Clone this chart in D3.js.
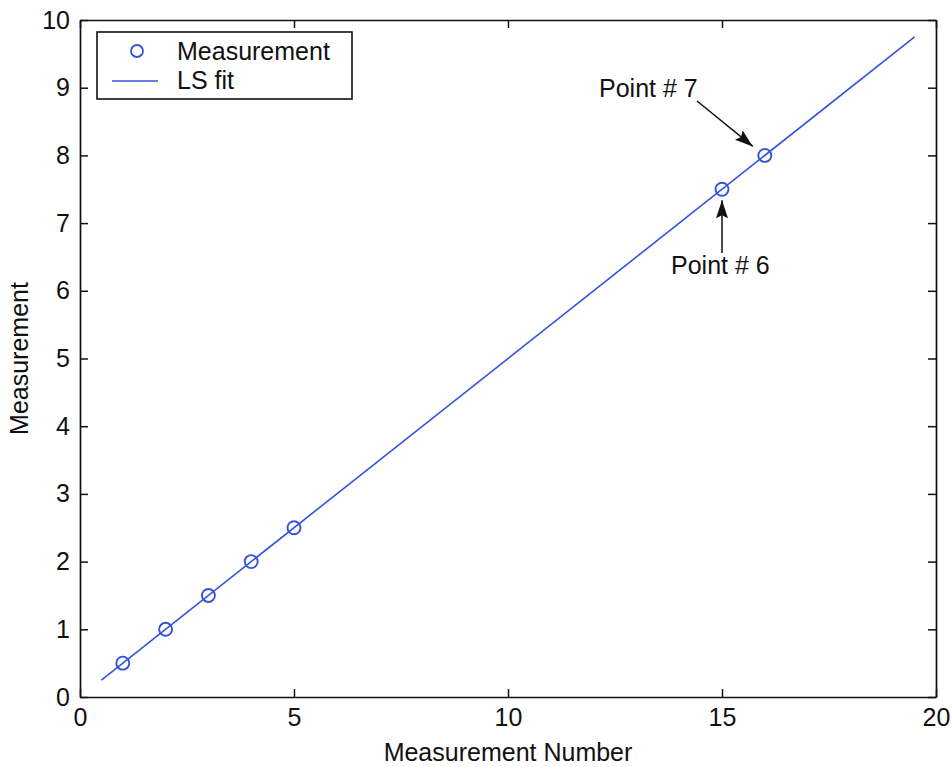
<!DOCTYPE html>
<html>
<head>
<meta charset="utf-8">
<script src="https://cdn.jsdelivr.net/npm/d3@7"></script>
<style>
  html, body { margin: 0; padding: 0; background: #ffffff; }
  svg { display: block; }
  text { font-family: "Liberation Sans", Arial, sans-serif; fill: #111; }
</style>
</head>
<body>
<svg id="chart" width="952" height="767"></svg>
<script>
// Measurement data
const measurementNumber = [1, 2, 3, 4, 5, 15, 16];
const measurementValue  = [0.5, 1.0, 1.5, 2.0, 2.5, 7.5, 8.0];

// Range over which the least-squares line is drawn
const fitRange = [0.5, 19.5];

// Axis ticks
const xTicks = [0, 5, 10, 15, 20];
const yTicks = [0, 1, 2, 3, 4, 5, 6, 7, 8, 9, 10];

// Callouts: label text and index of the point it refers to
const callouts = [
  { label: "Point # 7", index: 6 },
  { label: "Point # 6", index: 5 }
];

const seriesNames = ["Measurement", "LS fit"];

const blue = "#3552dc";
const fontSize = "25px";
const svg = d3.select("#chart");

const plot = { left: 80, right: 936, top: 20, bottom: 697 };
const x = d3.scaleLinear().domain([0, 20]).range([plot.left, plot.right]);
const y = d3.scaleLinear().domain([0, 10]).range([plot.bottom, plot.top]);

// Least-squares fit of the measurements
const n = measurementNumber.length;
const mx = d3.mean(measurementNumber), my = d3.mean(measurementValue);
let sxy = 0, sxx = 0;
for (let i = 0; i < n; i++) {
  sxy += (measurementNumber[i] - mx) * (measurementValue[i] - my);
  sxx += (measurementNumber[i] - mx) ** 2;
}
const slope = sxy / sxx;
const intercept = my - slope * mx;
const fitLine = fitRange.map(v => [v, intercept + slope * v]);

// Filled arrowhead for the callouts
svg.append("defs").append("marker")
  .attr("id", "arrow")
  .attr("viewBox", "0 0 18 12")
  .attr("refX", 18).attr("refY", 6)
  .attr("markerWidth", 18).attr("markerHeight", 12)
  .attr("markerUnits", "userSpaceOnUse")
  .attr("orient", "auto")
  .append("path").attr("d", "M0,0 L18,6 L0,12 L3,6 Z").attr("fill", "#111");

// Axes (inward ticks, boxed like a MATLAB figure)
const tickFont = g => g.selectAll("text")
  .style("font-size", fontSize)
  .style("font-family", '"Liberation Sans", Arial, sans-serif')
  .attr("fill", "#111");

svg.append("g")
  .attr("transform", `translate(0,${plot.bottom})`)
  .call(d3.axisBottom(x).tickValues(xTicks).tickFormat(d3.format("d"))
    .tickSizeInner(-8).tickSizeOuter(0).tickPadding(11))
  .call(tickFont);

svg.append("g")
  .attr("transform", `translate(0,${plot.top})`)
  .call(d3.axisTop(x).tickValues(xTicks).tickFormat("")
    .tickSizeInner(-8).tickSizeOuter(0));

svg.append("g")
  .attr("transform", `translate(${plot.left},0)`)
  .call(d3.axisLeft(y).tickValues(yTicks).tickFormat(d3.format("d"))
    .tickSizeInner(-8).tickSizeOuter(0).tickPadding(10))
  .call(tickFont);

svg.append("g")
  .attr("transform", `translate(${plot.right},0)`)
  .call(d3.axisRight(y).tickValues(yTicks).tickFormat("")
    .tickSizeInner(-8).tickSizeOuter(0));

svg.selectAll(".domain").attr("stroke", "#111").attr("stroke-width", 1.7);
svg.selectAll(".tick line").attr("stroke", "#111").attr("stroke-width", 1.5);

// Axis titles
svg.append("text")
  .attr("x", (plot.left + plot.right) / 2)
  .attr("y", 761)
  .attr("text-anchor", "middle")
  .style("font-size", fontSize)
  .text("Measurement Number");

svg.append("text")
  .attr("transform", `translate(28,${(plot.top + plot.bottom) / 2}) rotate(-90)`)
  .attr("text-anchor", "middle")
  .style("font-size", fontSize)
  .text("Measurement");

// Fit line
svg.append("path")
  .datum(fitLine)
  .attr("fill", "none")
  .attr("stroke", blue)
  .attr("stroke-width", 1.6)
  .attr("d", d3.line().x(d => x(d[0])).y(d => y(d[1])));

// Measurement markers
const points = measurementNumber.map((v, i) => [v, measurementValue[i]]);
svg.append("g").selectAll("circle")
  .data(points)
  .join("circle")
  .attr("cx", d => x(d[0]))
  .attr("cy", d => y(d[1]))
  .attr("r", 6.5)
  .attr("fill", "none")
  .attr("stroke", blue)
  .attr("stroke-width", 1.9);

// Callouts with arrows
const calloutLayout = {
  "Point # 7": { tx: 599, ty: 97, from: [697, 101], tipOffset: [-12, -9] },
  "Point # 6": { tx: 671, ty: 274, from: null, tipOffset: [0, 11] }
};
callouts.forEach(c => {
  const p = points[c.index];
  const px = x(p[0]), py = y(p[1]);
  const L = calloutLayout[c.label];
  svg.append("text")
    .attr("x", L.tx).attr("y", L.ty)
    .style("font-size", fontSize)
    .text(c.label);
  const tip = [px + L.tipOffset[0], py + L.tipOffset[1]];
  const from = L.from || [px, 253];
  svg.append("line")
    .attr("x1", from[0]).attr("y1", from[1])
    .attr("x2", tip[0]).attr("y2", tip[1])
    .attr("stroke", "#111").attr("stroke-width", 1.5)
    .attr("marker-end", "url(#arrow)");
});

// Legend
const legend = svg.append("g");
legend.append("rect")
  .attr("x", 97).attr("y", 32).attr("width", 255).attr("height", 67)
  .attr("fill", "#fff").attr("stroke", "#111").attr("stroke-width", 1.6);
legend.append("circle")
  .attr("cx", 137).attr("cy", 51).attr("r", 6)
  .attr("fill", "none").attr("stroke", blue).attr("stroke-width", 1.8);
legend.append("line")
  .attr("x1", 112).attr("x2", 158).attr("y1", 81).attr("y2", 81)
  .attr("stroke", blue).attr("stroke-width", 1.6);
legend.selectAll("text.lab")
  .data(seriesNames)
  .join("text")
  .attr("class", "lab")
  .attr("x", 177)
  .attr("y", (d, i) => 60 + i * 29)
  .style("font-size", fontSize)
  .text(d => d);
</script>
</body>
</html>
